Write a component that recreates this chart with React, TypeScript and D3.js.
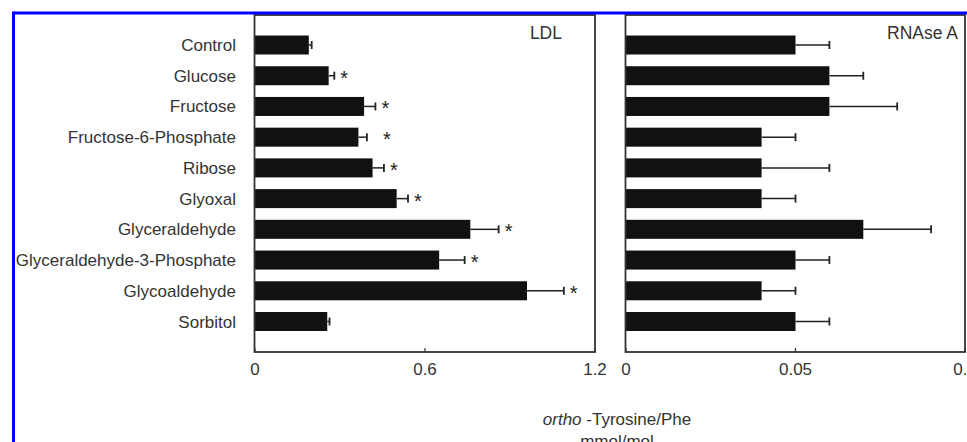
import React from "react";
import * as d3 from "d3";

const categories = [
  "Control",
  "Glucose",
  "Fructose",
  "Fructose-6-Phosphate",
  "Ribose",
  "Glyoxal",
  "Glyceraldehyde",
  "Glyceraldehyde-3-Phosphate",
  "Glycoaldehyde",
  "Sorbitol",
];
const ldlValues = [0.19, 0.26, 0.385, 0.365, 0.415, 0.5, 0.76, 0.65, 0.96, 0.255];
const ldlErrors = [0.01, 0.02, 0.04, 0.03, 0.04, 0.04, 0.1, 0.09, 0.13, 0.008];
const ldlSignificant = [false, true, true, true, true, true, true, true, true, false];
const rnaseValues = [0.05, 0.06, 0.06, 0.04, 0.04, 0.04, 0.07, 0.05, 0.04, 0.05];
const rnaseErrors = [0.01, 0.01, 0.02, 0.01, 0.02, 0.01, 0.02, 0.01, 0.01, 0.01];
const ldlTicks = [0, 0.6, 1.2];
const ldlTickLabels = ["0", "0.6", "1.2"];
const rnaseTicks = [0, 0.05, 0.1];
const rnaseTickLabels = ["0", "0.05", "0.1"];

const W = 967;
const H = 442;
const FONT = "'Liberation Sans', Arial, sans-serif";
const TOP = 15;
const BOTTOM = 352;

function Panel({
  x0,
  x1,
  domainMax,
  values,
  errors,
  stars,
  ticks,
  tickLabels,
  title,
  titleX,
}: any) {
  const x = d3.scaleLinear().domain([0, domainMax]).range([x0, x1]);
  const y = d3
    .scalePoint<string>()
    .domain(categories)
    .range([TOP + 30, BOTTOM - 30.5]);
  const barH = 19;
  const capH = 8;
  return (
    <g>
      {categories.map((c, i) => {
        const cy = y(c)!;
        const xe = x(values[i] + errors[i]);
        return (
          <g key={c}>
            <rect
              x={x(0)}
              y={cy - barH / 2}
              width={x(values[i]) - x(0)}
              height={barH}
              fill="#111"
            />
            <line x1={x(values[i])} x2={xe} y1={cy} y2={cy} stroke="#222" strokeWidth={1.5} />
            <line x1={xe} x2={xe} y1={cy - capH / 2} y2={cy + capH / 2} stroke="#222" strokeWidth={1.8} />
            {stars && stars[i] ? (
              <text
                x={i === 3 ? xe + 16 : xe + 6}
                y={cy + 9}
                fontFamily={FONT}
                fontSize={20}
                fill="#222"
              >
                *
              </text>
            ) : null}
          </g>
        );
      })}
      <rect
        x={x0 - 0.5}
        y={TOP}
        width={x1 - x0 + 0.5}
        height={BOTTOM - TOP}
        fill="none"
        stroke="#333"
        strokeWidth={1.8}
      />
      {ticks.map((t: number, i: number) => (
        <g key={t}>
          <line x1={x(t)} x2={x(t)} y1={BOTTOM} y2={BOTTOM - 4} stroke="#333" strokeWidth={1.2} />
          <text
            x={x(t)}
            y={375}
            textAnchor="middle"
            fontFamily={FONT}
            fontSize={17}
            fill="#333"
          >
            {tickLabels[i]}
          </text>
        </g>
      ))}
      <text x={titleX} y={39} textAnchor="end" fontFamily={FONT} fontSize={17.5} fill="#333">
        {title}
      </text>
    </g>
  );
}

export default function App() {
  const y = d3
    .scalePoint<string>()
    .domain(categories)
    .range([TOP + 30, BOTTOM - 30.5]);
  return (
    <svg
      width={W}
      height={H}
      style={{ position: "absolute", left: 0, top: 0, background: "#fff" }}
    >
      <defs>
        <clipPath id="clipAll">
          <rect x={0} y={0} width={966} height={H} />
        </clipPath>
      </defs>
      <rect x={0} y={0} width={W} height={H} fill="#fff" />
      <g clipPath="url(#clipAll)">
        {categories.map((c) => (
          <text
            key={c}
            x={236}
            y={y(c)! + 6}
            textAnchor="end"
            fontFamily={FONT}
            fontSize={17}
            fill="#333"
          >
            {c}
          </text>
        ))}
        <Panel
          x0={255}
          x1={595}
          domainMax={1.2}
          values={ldlValues}
          errors={ldlErrors}
          stars={ldlSignificant}
          ticks={ldlTicks}
          tickLabels={ldlTickLabels}
          title="LDL"
          titleX={562}
        />
        <Panel
          x0={626}
          x1={965}
          domainMax={0.1}
          values={rnaseValues}
          errors={rnaseErrors}
          stars={null}
          ticks={rnaseTicks}
          tickLabels={rnaseTickLabels}
          title="RNAse A"
          titleX={958}
        />
        <text x={617} y={425} textAnchor="middle" fontFamily={FONT} fontSize={17} fill="#333">
          <tspan fontStyle="italic">ortho</tspan>
          <tspan> -Tyrosine/Phe</tspan>
        </text>
        <text x={617} y={447} textAnchor="middle" fontFamily={FONT} fontSize={17} fill="#333">
          mmol/mol
        </text>
      </g>
      <line x1={13.5} x2={W} y1={13} y2={13} stroke="#0000ff" strokeWidth={3} />
      <line x1={13.5} x2={13.5} y1={11.5} y2={H} stroke="#0000ff" strokeWidth={3} />
    </svg>
  );
}
